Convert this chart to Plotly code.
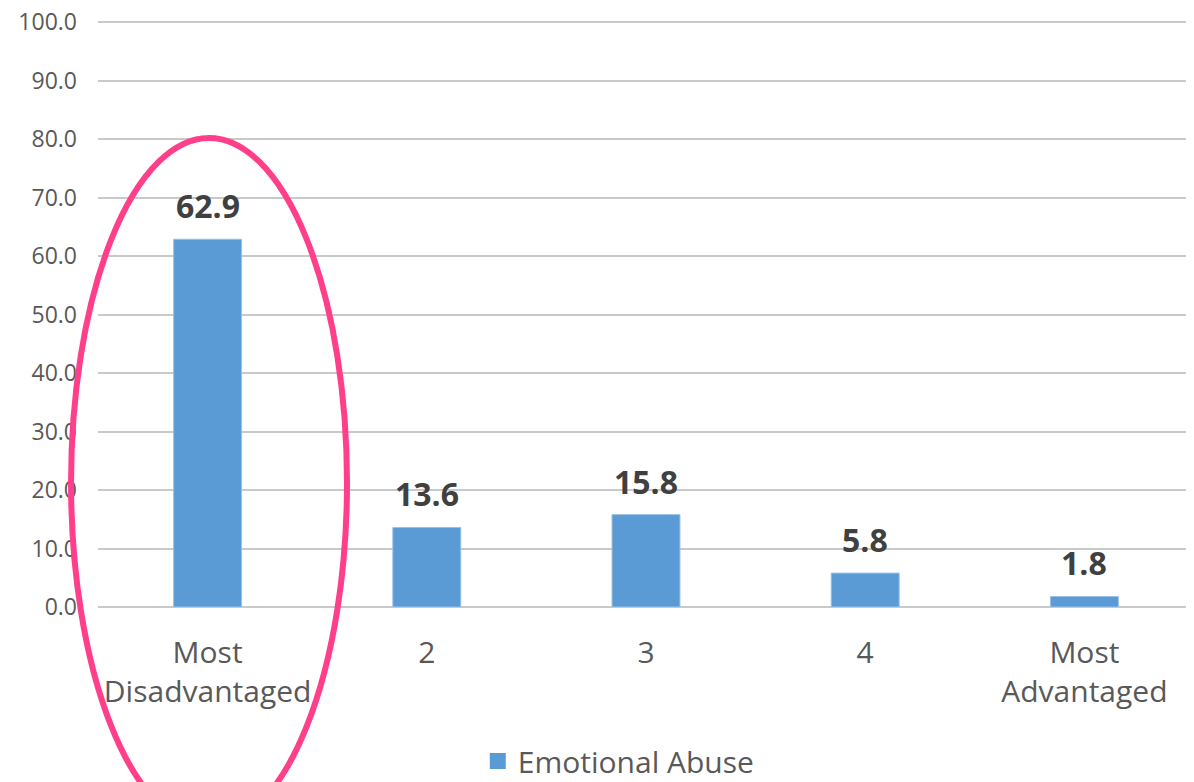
import plotly.graph_objects as go

# quintile groups and percentages
groups = ["Most<br>Disadvantaged", "2", "3", "4", "Most<br>Advantaged"]
values = [62.9, 13.6, 15.8, 5.8, 1.8]
series_name = "Emotional Abuse"
y_ticks = [0, 10, 20, 30, 40, 50, 60, 70, 80, 90, 100]

bar_color = "#5b9bd5"
grid_color = "#c9c9c9"
font_family = "Open Sans, Noto Sans, sans-serif"

fig = go.Figure()

fig.add_trace(
    go.Bar(
        x=groups,
        y=values,
        name=series_name,
        width=0.31,
        marker=dict(color=bar_color, line=dict(color="#9dc0e6", width=1)),
        showlegend=False,
    )
)
# legend entry only, so the square can be bigger than the bar icon
fig.add_trace(
    go.Scatter(
        x=[None], y=[None], mode="markers", name=series_name,
        marker=dict(symbol="square", size=18, color=bar_color),
    )
)

# value labels above each bar (x by category index, "2" would be read as a number)
for i, v in enumerate(values):
    fig.add_annotation(
        x=i, y=v, text=f"<b>{v:.1f}</b>",
        showarrow=False, yanchor="bottom", yshift=10,
        font=dict(family=font_family, size=32, color="#404040"),
    )

# pink highlight ellipse around the first group
fig.add_shape(
    type="circle",
    xref="paper", yref="paper",
    x0=-0.0246, x1=0.2272, y0=-0.376, y1=0.799,
    line=dict(color="#ff3f8a", width=6),
    layer="above",
)

# page body has an 8px margin, so the figure is 8px smaller than the window
fig.update_layout(
    width=1186,
    height=774,
    margin=dict(l=90, r=0, t=12, b=175),
    plot_bgcolor="white",
    paper_bgcolor="white",
    font=dict(family=font_family, color="#595959"),
    legend=dict(
        orientation="h",
        x=0.515, xanchor="center", xref="container",
        y=0.027, yanchor="middle", yref="container",
        font=dict(size=30, color="#595959"),
        itemwidth=30,
    ),
)

fig.update_yaxes(
    range=[0, 100.4],
    tickvals=y_ticks,
    tickformat=".1f",
    showgrid=True,
    gridcolor=grid_color,
    gridwidth=2,
    zeroline=True,
    zerolinecolor=grid_color,
    zerolinewidth=2,
    showline=False,
    ticks="",
    ticklabelstandoff=20,
    ticklabeloverflow="allow",
    tickfont=dict(size=23, color="#595959"),
    automargin=False,
)

fig.update_xaxes(
    range=[-0.5, 4.5],
    showgrid=False,
    showline=False,
    ticks="",
    ticklabelstandoff=25,
    tickfont=dict(size=30, color="#595959"),
    automargin=False,
)

fig.write_html("out.html")
